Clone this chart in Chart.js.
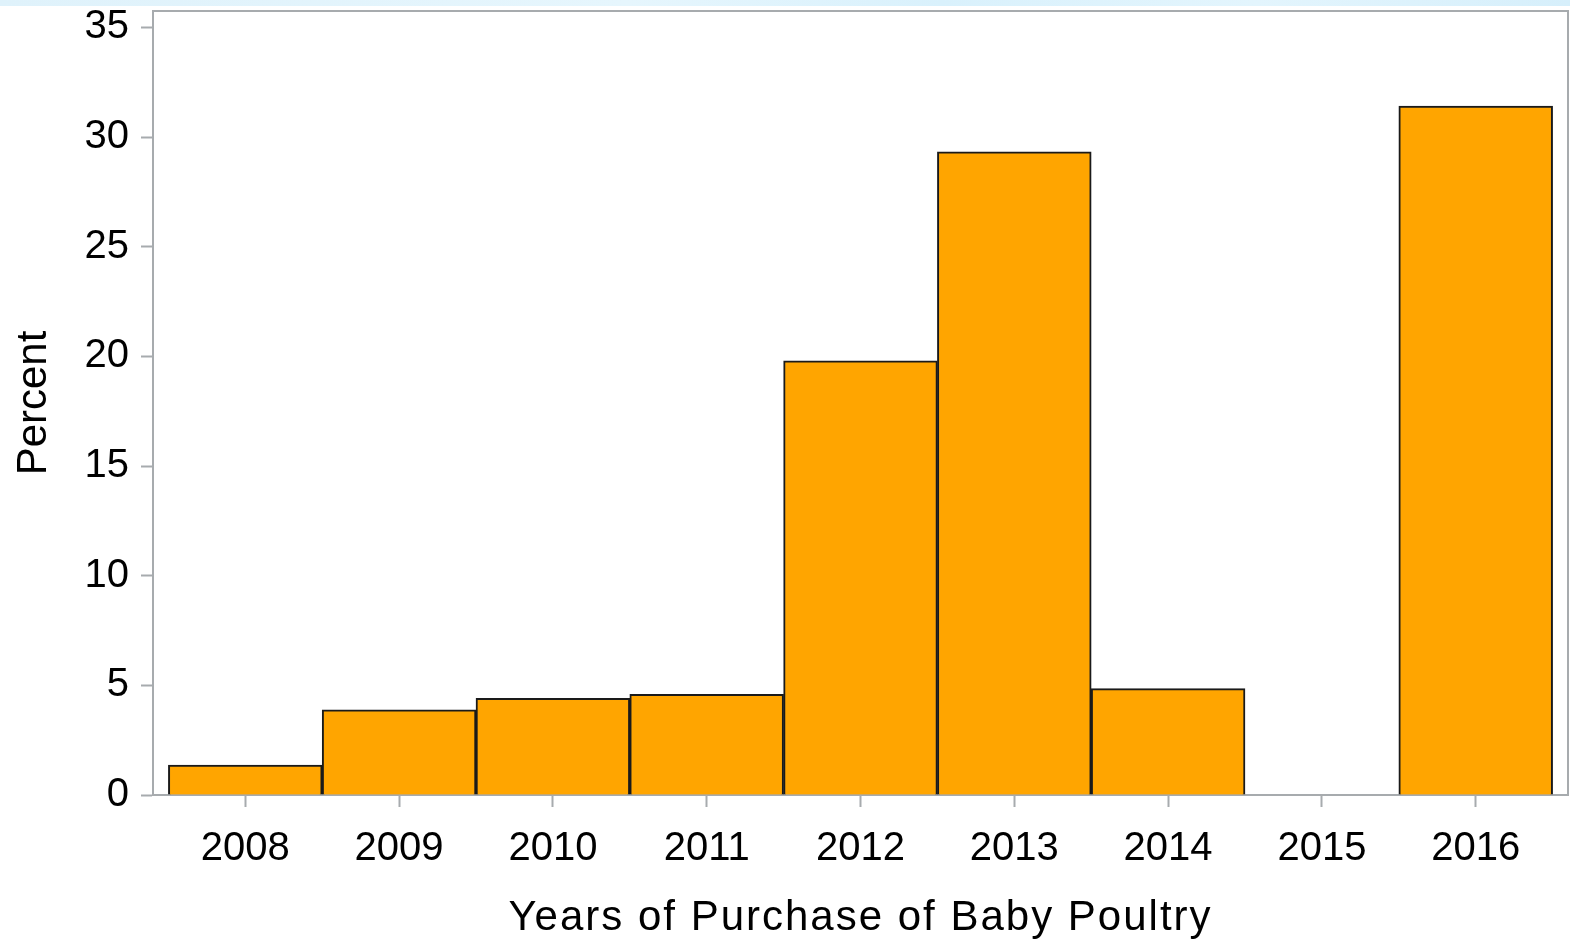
<!DOCTYPE html>
<html>
<head>
<meta charset="utf-8">
<title>Years of Purchase of Baby Poultry</title>
<script src="https://cdn.jsdelivr.net/npm/chart.js@4/dist/chart.umd.min.js"></script>
<style>
    body { margin: 0; background: #ffffff; overflow: hidden; }
    #strip {
        position: absolute; left: 0; top: 0; width: 1570px; height: 6px;
        background: linear-gradient(to right, #dff2fb, #e6f6fd 40%, #d9f1fc 60%, #e3f5fd 80%, #d6effb);
    }
    /* canvas pushed up so the plot frame lands just under the strip */
    #chartBox { position: absolute; left: 0; top: -25px; width: 1570px; height: 965px; }
</style>
</head>
<body>
<div id="strip"></div>
<div id="chartBox"><canvas id="poultryChart" width="1570" height="965"></canvas></div>
<script>
// Chart data
const years = [2008, 2009, 2010, 2011, 2012, 2013, 2014, 2015, 2016];
const percents = [1.37, 3.88, 4.41, 4.59, 19.8, 29.33, 4.85, 0, 31.42];
const yTicks = [0, 5, 10, 15, 20, 25, 30, 35];

const axisGray = '#a7abae';
const fontFamily = '"Liberation Sans", Arial, sans-serif';

// Draws the top and right edges of the plot frame
const frameBorder = {
    id: 'frameBorder',
    afterDraw(chart) {
        const { ctx, chartArea } = chart;
        ctx.save();
        ctx.strokeStyle = axisGray;
        ctx.lineWidth = 2;
        ctx.beginPath();
        ctx.moveTo(chartArea.left, chartArea.top);
        ctx.lineTo(chartArea.right, chartArea.top);
        ctx.lineTo(chartArea.right, chartArea.bottom);
        ctx.stroke();
        ctx.restore();
    }
};

// The x title in the reference is spaced out a bit, so widen its letters
function spreadTitle(scale) {
    if (scale._spreadDone) return;
    const drawTitle = scale.drawTitle;
    scale.drawTitle = function () {
        const ctx = this.ctx;
        ctx.save();
        ctx.letterSpacing = '2px';
        drawTitle.call(this);
        ctx.restore();
    };
    scale._spreadDone = true;
}

function initializeChart() {
    const ctx = document.getElementById('poultryChart').getContext('2d');
    new Chart(ctx, {
        type: 'bar',
        data: {
            datasets: [{
                label: 'Percent',
                data: years.map((yr, i) => ({ x: yr, y: percents[i] })),
                backgroundColor: '#ffa500',
                borderColor: '#1a1a1a',
                borderWidth: 2,
                barPercentage: 1,
                categoryPercentage: 1
            }]
        },
        options: {
            responsive: false,
            animation: false,
            devicePixelRatio: 1,
            layout: { padding: { top: 0, right: 2, left: 0, bottom: 0 } },
            plugins: {
                legend: { display: false },
                tooltip: { enabled: false }
            },
            scales: {
                x: {
                    type: 'linear',
                    min: 2007.4,
                    max: 2016.6,
                    offset: false,
                    afterFit(scale) {
                        scale.height = 145;
                        spreadTitle(scale);
                    },
                    afterBuildTicks(scale) {
                        scale.ticks = years.map(v => ({ value: v }));
                    },
                    grid: {
                        offset: false,
                        drawOnChartArea: false,
                        drawTicks: true,
                        tickLength: 12,
                        tickWidth: 2,
                        color: axisGray
                    },
                    border: { color: axisGray, width: 2 },
                    ticks: {
                        padding: 18,
                        color: '#000000',
                        maxRotation: 0,
                        autoSkip: false,
                        font: { family: fontFamily, size: 40 },
                        callback: v => String(v)
                    },
                    title: {
                        display: true,
                        text: 'Years of Purchase of Baby Poultry',
                        color: '#000000',
                        padding: { top: 0, bottom: 0 },
                        font: { family: fontFamily, size: 42, lineHeight: 1.05 }
                    }
                },
                y: {
                    min: 0,
                    max: 35.75,
                    afterFit(scale) { scale.width = 153; },
                    afterBuildTicks(scale) {
                        scale.ticks = yTicks.map(v => ({ value: v }));
                    },
                    grid: {
                        drawOnChartArea: false,
                        drawTicks: true,
                        tickLength: 12,
                        tickWidth: 2,
                        color: axisGray
                    },
                    border: { color: axisGray, width: 2 },
                    ticks: {
                        padding: 12,
                        color: '#000000',
                        font: { family: fontFamily, size: 40 }
                    },
                    title: {
                        display: true,
                        text: 'Percent',
                        color: '#000000',
                        padding: { top: 9, bottom: 0 },
                        font: { family: fontFamily, size: 42 }
                    }
                }
            }
        },
        plugins: [frameBorder]
    });
}

initializeChart();
</script>
</body>
</html>
